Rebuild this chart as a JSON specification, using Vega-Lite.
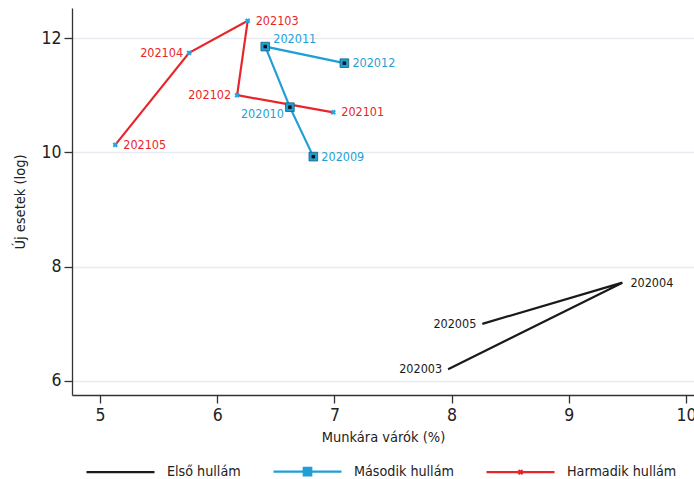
{
  "$schema": "https://vega.github.io/schema/vega-lite/v6.json",
  "width": 622,
  "height": 387,
  "autosize": "none",
  "padding": {"left": 72, "top": 8, "right": 0, "bottom": 84},
  "background": "white",
  "config": {
    "view": {"stroke": null},
    "font": "DejaVu Sans Condensed",
    "text": {"font": "DejaVu Sans Condensed"},
    "axis": {
      "labelFont": "DejaVu Sans Condensed",
      "titleFont": "DejaVu Sans Condensed",
      "labelFontSize": 17.5,
      "titleFontSize": 14.5,
      "labelColor": "#222",
      "titleColor": "#222",
      "titleFontWeight": "normal",
      "domainColor": "#333",
      "tickColor": "#333",
      "domainWidth": 1.3,
      "tickWidth": 1.3,
      "tickSize": 8,
      "gridColor": "#e6ecf1",
      "gridWidth": 1.3
    },
    "legend": {
      "labelFont": "DejaVu Sans Condensed",
      "labelFontSize": 14.2,
      "labelColor": "#222"
    }
  },
  "data": {
    "values": [
      {"wave": "Első hullám", "period": 202003, "label": "202003", "x": 7.97, "y": 6.205},
      {"wave": "Első hullám", "period": 202004, "label": "202004", "x": 9.457, "y": 7.72},
      {"wave": "Első hullám", "period": 202005, "label": "202005", "x": 8.262, "y": 7.0},
      {"wave": "Második hullám", "period": 202009, "label": "202009", "x": 6.82, "y": 9.925},
      {"wave": "Második hullám", "period": 202010, "label": "202010", "x": 6.62, "y": 10.79},
      {"wave": "Második hullám", "period": 202011, "label": "202011", "x": 6.41, "y": 11.85},
      {"wave": "Második hullám", "period": 202012, "label": "202012", "x": 7.085, "y": 11.56},
      {"wave": "Harmadik hullám", "period": 202101, "label": "202101", "x": 6.99, "y": 10.7},
      {"wave": "Harmadik hullám", "period": 202102, "label": "202102", "x": 6.17, "y": 11.0},
      {"wave": "Harmadik hullám", "period": 202103, "label": "202103", "x": 6.26, "y": 12.3},
      {"wave": "Harmadik hullám", "period": 202104, "label": "202104", "x": 5.76, "y": 11.74},
      {"wave": "Harmadik hullám", "period": 202105, "label": "202105", "x": 5.13, "y": 10.13}
    ]
  },
  "encoding": {
    "x": {
      "field": "x",
      "type": "quantitative",
      "scale": {"domain": [4.761, 10.068], "nice": false, "zero": false},
      "axis": {"title": "Munkára várók (%)", "values": [5, 6, 7, 8, 9, 10], "grid": false, "labelPadding": 3, "titlePadding": 7}
    },
    "y": {
      "field": "y",
      "type": "quantitative",
      "scale": {"domain": [5.755, 12.525], "nice": false, "zero": false},
      "axis": {"title": "Új esetek (log)", "values": [6, 8, 10, 12], "grid": true, "labelPadding": 3, "titlePadding": 13}
    },
    "color": {
      "field": "wave",
      "type": "nominal",
      "scale": {"domain": ["Első hullám", "Második hullám", "Harmadik hullám"], "range": ["#1a1a1a", "#1f9fd6", "#e8262a"]}
    }
  },
  "layer": [
    {
      "mark": {"type": "line", "strokeWidth": 2.2},
      "encoding": {
        "order": {"field": "period", "type": "quantitative"}
      }
    },
    {
      "transform": [{"filter": "datum.wave === 'Második hullám'"}],
      "mark": {"type": "square", "filled": true, "size": 75, "fill": "#1f9fd6", "stroke": "#17607f", "strokeWidth": 0.8, "opacity": 1},
      "encoding": {"color": {"value": "#1f9fd6"}}
    },
    {
      "transform": [{"filter": "datum.wave === 'Második hullám'"}],
      "mark": {"type": "square", "filled": true, "size": 12, "opacity": 1},
      "encoding": {"color": {"value": "#111"}}
    },
    {
      "transform": [{"filter": "datum.wave === 'Harmadik hullám'"}],
      "mark": {"type": "point", "shape": "cross", "filled": true, "size": 30, "angle": 45, "opacity": 1},
      "encoding": {"color": {"value": "#2aa3dc"}}
    },
    {
      "mark": {"type": "point", "filled": false, "strokeWidth": 2.2, "opacity": 0, "size": 1},
      "encoding": {
        "shape": {
          "field": "wave",
          "type": "nominal",
          "scale": {
            "domain": ["Első hullám", "Második hullám", "Harmadik hullám"],
            "range": ["M-1,0H1", "M-1,0H-0.11M0.11,0H1M-0.11,-0.11H0.11V0.11H-0.11Z", "M-1,0H1M-0.06,-0.06L0.06,0.06M-0.06,0.06L0.06,-0.06"]
          },
          "legend": {
            "title": null,
            "orient": "none",
            "direction": "horizontal",
            "legendX": 13,
            "legendY": 428,
            "symbolSize": 4624,
            "symbolStrokeWidth": 2.2,
            "symbolOpacity": 1,
            "labelOffset": 11,
            "columnPadding": 28,
            "padding": 0
          }
        }
      }
    },
    {
      "transform": [{"filter": {"field": "label", "oneOf": ["202003", "202005", "202104", "202102"]}}],
      "mark": {"type": "text", "align": "right", "baseline": "middle", "dx": -6, "fontSize": 12.5},
      "encoding": {"text": {"field": "label"}}
    },
    {
      "transform": [{"filter": {"field": "label", "oneOf": ["202010"]}}],
      "mark": {"type": "text", "align": "right", "baseline": "middle", "dx": -6, "dy": 7, "fontSize": 12.5},
      "encoding": {"text": {"field": "label"}}
    },
    {
      "transform": [{"filter": {"field": "label", "oneOf": ["202011"]}}],
      "mark": {"type": "text", "align": "left", "baseline": "middle", "dx": 8, "dy": -8, "fontSize": 12.5},
      "encoding": {"text": {"field": "label"}}
    },
    {
      "transform": [{"filter": {"field": "label", "oneOf": ["202004", "202009", "202012", "202101", "202103", "202105"]}}],
      "mark": {"type": "text", "align": "left", "baseline": "middle", "dx": 8, "fontSize": 12.5},
      "encoding": {"text": {"field": "label"}}
    }
  ]
}
